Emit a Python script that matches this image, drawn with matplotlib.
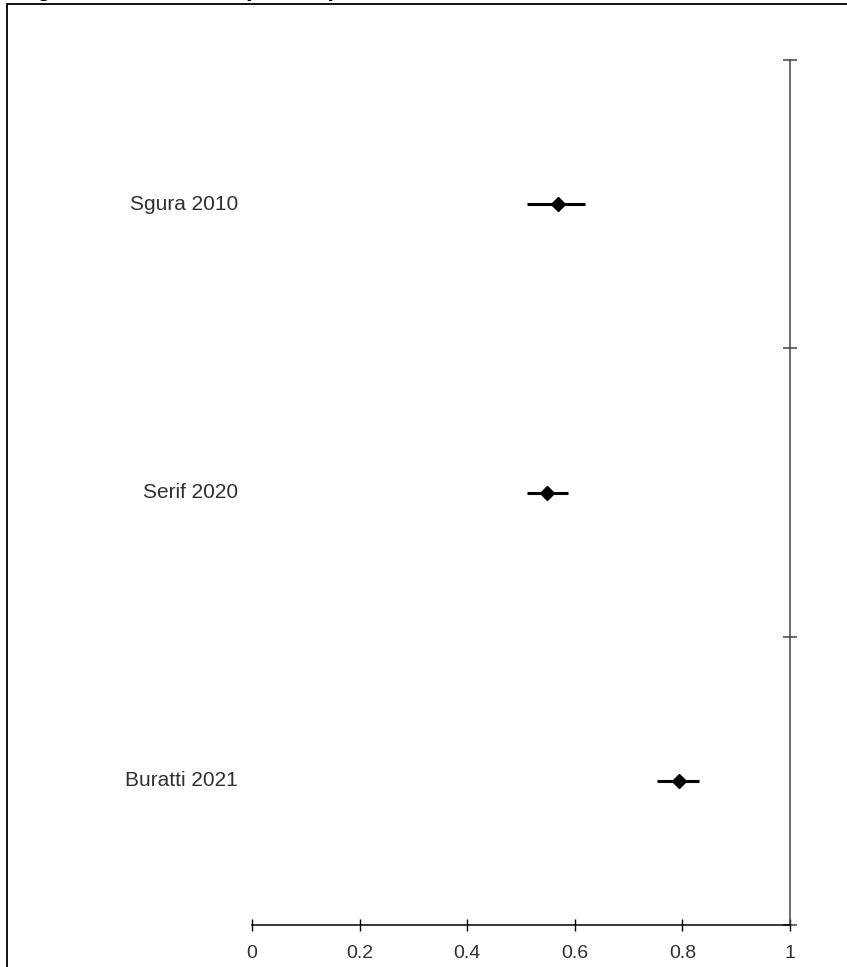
import matplotlib
matplotlib.use("Agg")
import matplotlib.pyplot as plt
from matplotlib.patches import Rectangle

plt.rcParams['font.family'] = ['Liberation Sans', 'DejaVu Sans']

# per-study estimates with 95% CI
studies = ["Sgura 2010", "Serif 2020", "Buratti 2021"]
estimate = [0.569, 0.549, 0.794]
ci_low = [0.511, 0.511, 0.753]
ci_high = [0.619, 0.588, 0.831]
xticks = [0, 0.2, 0.4, 0.6, 0.8, 1]
xtick_labels = ["0", "0.2", "0.4", "0.6", "0.8", "1"]

W, H = 847, 967
fig = plt.figure(figsize=(W / 100, H / 100), dpi=100)

# outer frame, runs off the right and bottom edges
fig.patches.append(Rectangle((7 / W, -0.1), 1.2, (H - 4) / H + 0.1,
                             transform=fig.transFigure, fill=False,
                             edgecolor="black", linewidth=1.3))
# title sits above the canvas, only its descenders show
fig.text(0 / W, (H + 4) / H, "Single arm estimates (95% CI)", fontsize=17,
         fontweight="bold", ha="left", va="baseline")

ax = fig.add_axes([252 / W, (H - 925) / H, (790 - 252) / W, (925 - 60) / H])
n = len(studies)
ypos = [n - i - 0.5 for i in range(n)]

for y, est, lo, hi, name in zip(ypos, estimate, ci_low, ci_high, studies):
    ax.plot([lo, hi], [y, y], color="black", linewidth=2.2, solid_capstyle="butt")
    ax.plot(est, y, marker="D", markersize=7, color="black")
    ax.text(-0.026, y, name, ha="right", va="center", fontsize=15,
            color="#303030")

ax.set_xlim(0, 1)
ax.set_ylim(0, n)
ax.spines["top"].set_visible(False)
ax.spines["left"].set_visible(False)
ax.spines["bottom"].set_linewidth(1.1)
ax.spines["right"].set_linewidth(1.1)
ax.spines["right"].set_color("#444444")
ax.patch.set_visible(False)

ax.set_xticks(xticks)
ax.set_xticklabels(xtick_labels)
ax.tick_params(axis="x", direction="inout", length=9, width=1,
               labelsize=14, labelcolor="#303030", pad=10)
ax.yaxis.tick_right()
ax.set_yticks(range(n + 1))
ax.set_yticklabels([])
ax.tick_params(axis="y", direction="inout", length=10, width=1.1,
               color="#444444")

fig.savefig("out.png", dpi=100)
